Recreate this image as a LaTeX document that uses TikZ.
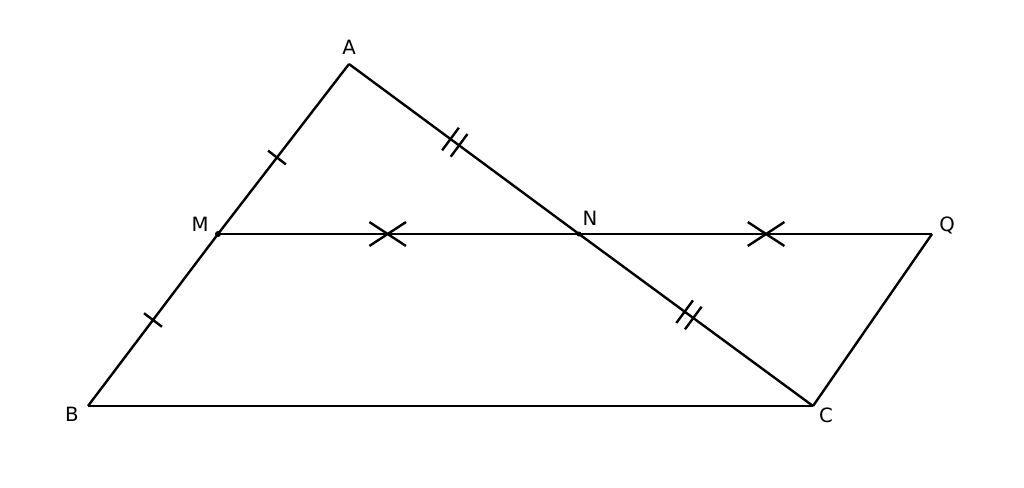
\documentclass[tikz,border=0pt]{standalone}
\usepackage{fontspec}
\setmainfont{DejaVu Sans}
\usetikzlibrary{positioning,decorations.markings}
\tikzset{
  onetick/.style={postaction={decorate,decoration={markings,
    mark=at position #1 with {\draw (0,-8pt) -- (0,8pt);}}}},
  onetick/.default=0.5,
  twotick/.style={postaction={decorate,decoration={markings,
    mark=at position #1 with {\draw (-3.8pt,-10pt) -- (-3.8pt,10pt) (3.8pt,-10pt) -- (3.8pt,10pt);}}}},
  twotick/.default=0.5,
  crossmark/.style={postaction={decorate,decoration={markings,
    mark=at position #1 with {\draw (-13pt,-8.5pt) -- (13pt,8.5pt) (-13pt,8.5pt) -- (13pt,-8.5pt);}}}},
  crossmark/.default=0.5,
  lbl/.style={font=\fontsize{14}{16}\selectfont, inner sep=0pt}
}
\begin{document}
\begin{tikzpicture}[x=0.025cm, y=-0.025cm, line width=1.7pt]
  \fill[white] (0,0) rectangle (1024,487);
  \useasboundingbox (0,0) rectangle (1024,487);

  \coordinate (A) at (349,64);
  \coordinate (B) at (88,406);
  \coordinate (C) at (813,406);
  \coordinate (M) at (218,234);
  \coordinate (N) at (579,234);
  \coordinate (Q) at (932,234);

  \node[lbl] (labA) at (349,47) {A};
  \node[lbl] (labB) at (72,414) {B};
  \node[lbl] (labC) at (826,415) {C};
  \node[lbl] (labM) at (200,224) {M};
  \node[lbl] (labN) at (590,218) {N};
  \node[lbl] (labQ) at (947,225) {Q};

  % sides of the triangle
  \draw[onetick=0.55] (A) -- (M);
  \draw[onetick] (M) -- (B);
  \draw[twotick=0.46] (A) -- (N);
  \draw[twotick=0.47] (N) -- (C);
  \draw (B) -- (C);

  % through M and N
  \draw[crossmark=0.47] (M) -- (N);
  \draw[crossmark=0.53] (N) -- (Q);
  \draw (Q) -- (C);

  \fill (M) circle (3);
  \fill (N) circle (2.5);
\end{tikzpicture}
\end{document}
